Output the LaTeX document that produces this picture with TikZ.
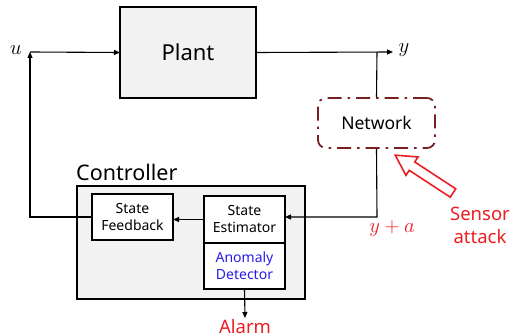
\documentclass[tikz,border=0pt]{standalone}
\usepackage{fontspec}
\setmainfont{Noto Sans}
\usetikzlibrary{arrows.meta,positioning}
\definecolor{netred}{RGB}{120,32,32}
\definecolor{atkred}{RGB}{235,30,35}
\definecolor{adblue}{RGB}{40,30,230}
\definecolor{boxgray}{RGB}{242,242,242}

\begin{document}
\begin{tikzpicture}[x=1pt,y=-1pt,
  blk/.style={draw, line width=1.3pt, fill=boxgray, outer sep=0pt},
  sub/.style={draw, line width=1.2pt, fill=white, align=center,
              font=\fontsize{14}{17}\selectfont, minimum width=81pt,
              inner sep=0pt, outer sep=0pt},
  arr/.style={-{Triangle[length=6pt,width=5pt]}, line width=1.1pt},
  ln/.style={line width=1.1pt},
  sym/.style={font=\fontsize{20}{22}\selectfont, inner sep=0pt},
  redlab/.style={text=atkred, align=center, font=\fontsize{18.5}{23}\selectfont}
]
\useasboundingbox (0,0) rectangle (511,336);
\node[blk, minimum width=136pt, minimum height=91pt, font=\fontsize{22}{24}\selectfont] (plant) at (188,52.5) {Plant};
\node[draw=netred, line width=1.8pt, dash pattern=on 14pt off 6pt on 2.5pt off 6pt,
      rounded corners=8pt, minimum width=117pt, minimum height=50pt,
      font=\fontsize{17.5}{19}\selectfont] (net) at (376.5,123) {Network};
\node[blk, minimum width=228pt, minimum height=113pt] (ctrl) at (191,242.5) {};
\node[anchor=south west, inner sep=0pt, font=\fontsize{21.5}{24}\selectfont] (ctrllab) at (76,181) {Controller};
\node[sub, minimum height=46pt] (sf) at (132.5,217) {State\\Feedback};
\node[sub, minimum height=47pt] (se) at (244.5,219.5) {State\\Estimator};
\node[sub, minimum height=46pt, text=adblue, below=0pt of se] (ad) {Anomaly\\Detector};
\node[redlab, anchor=north, inner sep=1pt] (alarm) at (245,318) {Alarm};
\node[redlab] (atk) at (480,225) {Sensor\\attack};
\node[sym] (ulab) at (16,50) {$u$};
\node[sym] (ylab) at (404,50) {$y$};
\node[sym, text=atkred] (yalab) at (392,229) {$y+a$};

\coordinate (uin) at (30,52);
\coordinate (ysplit) at (377,52);
\coordinate (yout) at (393,52);
\coordinate (fbk) at (30,217);
\coordinate (meas) at (377,217);

\draw[arr] (uin) -- (plant.west);
\draw[arr] (plant.east) -- (yout);
\draw[ln] (ysplit) -- (net.north);
\draw[arr] (net.south) -- (meas) -- (se.east |- meas);
\draw[arr] (se.west) -- (sf.east |- se.west);
\draw[arr] (sf.west |- fbk) -- (fbk) -- (uin);
\draw[arr] (ad.south) -- (alarm.north);

% hollow attack arrow
\begin{scope}[shift={(453,193)}, x={(-0.837pt,0.548pt)}, y={(0.548pt,0.837pt)}]
  \draw[atkred, line width=1.6pt, fill=white, line join=miter]
    (0,-5) -- (49,-5) -- (49,-11) -- (69,0) -- (49,11) -- (49,5) -- (0,5) -- cycle;
\end{scope}
\end{tikzpicture}
\end{document}
